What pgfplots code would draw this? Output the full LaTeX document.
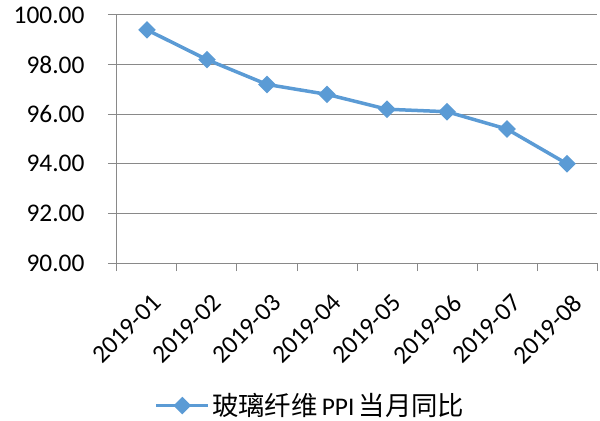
\documentclass[border=0pt]{standalone}
\usepackage{fontspec}
\setmainfont{Carlito}
\newfontfamily\cjk{Noto Sans CJK SC}
\usepackage{pgfplots}
\pgfplotsset{compat=1.18}
\definecolor{seriesblue}{HTML}{5B9BD5}
\definecolor{gridgray}{HTML}{898989}

\begin{document}
\begin{tikzpicture}
\useasboundingbox (-117bp,-158bp) rectangle (483bp,263bp);
\begin{axis}[
  scale only axis,
  width=480bp, height=248bp,
  xmin=-0.5, xmax=7.5,
  ymin=90, ymax=100,
  ytick={90,92,94,96,98,100},
  yticklabels={90.00,92.00,94.00,96.00,98.00,100.00},
  xtick={0,...,7},
  xticklabels={2019-01,2019-02,2019-03,2019-04,2019-05,2019-06,2019-07,2019-08},
  minor xtick={-0.5,0.5,...,7.5},
  major x tick style={draw=none},
  axis lines*=left,
  tick align=outside,
  major tick length=9bp, minor tick length=8bp,
  ymajorgrids,
  grid style={gridgray, line width=1bp},
  axis line style={gridgray, line width=1bp},
  tick style={gridgray, line width=1bp},
  ticklabel style={font=\fontsize{25.5}{30}\selectfont, text=black},
  yticklabel shift=20bp,
  yticklabel style={anchor=east},
  xticklabel style={xshift=4bp, yshift=-16bp, rotate=45, anchor=north east},
  clip=false,
  legend style={draw=none, at={(0.403,-0.575)}, anchor=center,
    font=\fontsize{25.5}{30}\selectfont},
  legend image code/.code={
    \draw[#1, mark repeat=2, mark phase=2] plot coordinates {(0bp,0bp) (26bp,0bp) (52bp,0bp)};
  },
]
\addplot[seriesblue, line width=3.5bp, mark=square*, mark size=4.5bp,
  mark options={rotate=45, solid}]
  coordinates {(0,99.4) (1,98.2) (2,97.2) (3,96.8) (4,96.2) (5,96.1) (6,95.4) (7,94.0)};
\addlegendentry{{\cjk\fontsize{26.5}{30}\selectfont 玻璃纤维}\,PPI\,{\cjk\fontsize{26.5}{30}\selectfont 当月同比}}
\end{axis}
\end{tikzpicture}
\end{document}
